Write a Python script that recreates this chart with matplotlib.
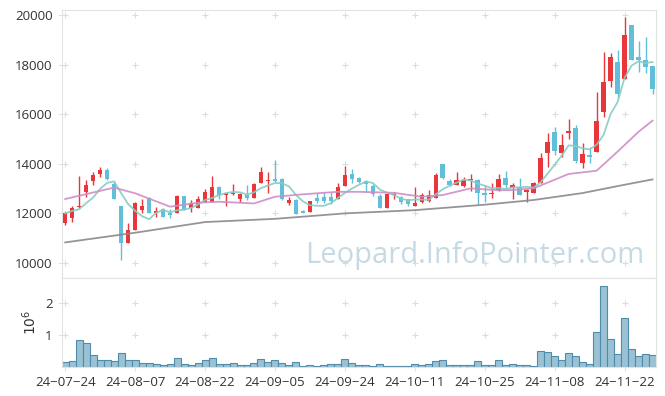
import numpy as np
import matplotlib
matplotlib.use("Agg")
from matplotlib import pyplot as plt

plt.rcParams['font.family'] = ['Open Sans', 'DejaVu Sans']

# daily bars, 24-07-24 .. 24-11-28 (85 trading days)
opens = [11600, 11800, 12250, 12850, 13300, 13580, 13750, 13200, 12300, 10800,
         11330, 12140, 12630, 12030, 12160, 12000, 12030, 12700, 12200, 12230,
         12470, 12470, 13050, 12740, 12780, 12570, 12740, 12630, 13240, 13300,
         13400, 13380, 12430, 12540, 12100, 12070, 12630, 12670, 12670, 12600,
         13120, 13590, 13440, 13300, 13100, 12700, 12230, 12740, 12650, 12570,
         12310, 12470, 12500, 12630, 13990, 13320, 13150, 13100, 13330, 13350,
         12830, 12780, 12940, 13440, 13010, 13080, 12870, 12810, 13240, 14420,
         15280, 14420, 15250, 15430, 14020, 14350, 14490, 16100, 17350, 18120,
         17400, 19600, 18320, 18190, 17940]
highs = [12050, 12300, 13500, 13350, 13650, 13860, 13820, 13280, 12300, 11620,
         12470, 12570, 12650, 12270, 12200, 12160, 12750, 12720, 12540, 12700,
         12970, 13500, 13100, 12830, 13190, 12830, 13150, 13230, 13860, 13680,
         14150, 13420, 12670, 12580, 12150, 12510, 12830, 12870, 12870, 13210,
         13910, 13800, 13460, 13350, 13200, 12800, 12800, 12870, 12700, 12600,
         13050, 12810, 12940, 13640, 14000, 13400, 13660, 13450, 13570, 13380,
         13150, 13240, 13590, 13720, 13240, 13410, 12970, 13260, 14450, 15230,
         15500, 15190, 15810, 15560, 14830, 14690, 16880, 18520, 18480, 18590,
         19930, 19600, 18950, 19100, 17940]
lows = [11550, 11650, 12230, 12650, 13150, 13480, 13350, 12580, 10120, 10800,
        11330, 12000, 12000, 11870, 11870, 11800, 12030, 12140, 12070, 12230,
        12470, 12470, 12600, 12300, 12740, 12470, 12540, 12630, 13240, 12830,
        13250, 12550, 12340, 11960, 12000, 12070, 12400, 12400, 12380, 12600,
        13120, 13210, 13210, 12870, 12700, 12230, 12230, 12600, 12380, 12300,
        12300, 12430, 12450, 12630, 13400, 13100, 13150, 13050, 12900, 12370,
        12450, 12610, 12900, 13010, 12570, 12740, 12470, 12810, 13240, 13880,
        14350, 14290, 14990, 14020, 13820, 14020, 14490, 15900, 17080, 16710,
        17400, 18190, 17710, 17650, 16810]
closes = [12000, 12200, 12300, 13150, 13550, 13750, 13400, 12600, 10800, 11330,
          12400, 12300, 12000, 12100, 11870, 11950, 12700, 12140, 12430, 12570,
          12870, 13080, 12740, 12830, 12800, 12800, 12630, 13190, 13680, 13320,
          13300, 12600, 12540, 11960, 12030, 12510, 12510, 12510, 12510, 13050,
          13550, 13380, 13260, 13170, 12770, 12230, 12770, 12770, 12470, 12370,
          12430, 12740, 12740, 13550, 13410, 13150, 13350, 13350, 13350, 12810,
          12730, 12820, 13400, 13130, 13150, 12740, 12940, 13240, 14220, 14880,
          14530, 14760, 15320, 14110, 14400, 14290, 15730, 17310, 18290, 16810,
          19190, 18190, 18190, 17920, 17030]
volumes = [160000, 190000, 840000, 750000, 375000, 220000, 220000, 190000, 440000, 230000,
           230000, 125000, 125000, 90000, 60000, 90000, 280000, 90000, 60000, 125000,
           220000, 280000, 90000, 90000, 125000, 60000, 60000, 125000, 250000, 160000,
           220000, 125000, 60000, 160000, 30000, 60000, 30000, 60000, 90000, 90000,
           250000, 125000, 60000, 60000, 30000, 90000, 30000, 30000, 30000, 30000,
           90000, 60000, 90000, 190000, 220000, 60000, 60000, 60000, 60000, 190000,
           60000, 60000, 220000, 60000, 90000, 60000, 60000, 30000, 500000, 470000,
           340000, 220000, 440000, 340000, 160000, 90000, 1090000, 2530000, 875000, 410000,
           1530000, 560000, 340000, 410000, 375000]

# longer moving averages (bar index, value)
ma20_idx = [0, 7, 10, 15, 19, 22, 27, 30, 34, 39, 42, 47, 51, 54, 58, 62, 64, 67, 72, 76, 79, 82, 84]
ma20_val = [12580, 13040, 12810, 12270, 12430, 12470, 12400, 12670, 12770, 12870, 12870, 12830,
            12670, 12740, 13010, 12930, 12940, 13010, 13590, 13720, 14490, 15290, 15740]
ma60_idx = [0, 10, 20, 30, 40, 50, 60, 67, 74, 79, 84]
ma60_val = [10830, 11220, 11650, 11780, 12000, 12130, 12350, 12540, 12820, 13100, 13370]

tick_pos = [0, 10, 20, 30, 40, 50, 60, 70, 80]
tick_labels = ['24-07-24', '24-08-07', '24-08-22', '24-09-05', '24-09-24',
               '24-10-11', '24-10-25', '24-11-08', '24-11-22']

up_color = '#e8363b'
down_color = '#62bfda'

fig = plt.figure(figsize=(6.65, 3.96), dpi=100)
ax = fig.add_axes([0.0928, 0.298, 0.8937, 0.6767])
axv = fig.add_axes([0.0928, 0.0725, 0.8937, 0.2255], sharex=ax)

x = np.arange(len(closes))
o = np.array(opens); h = np.array(highs); l = np.array(lows); c = np.array(closes)
cols = np.where(c >= o, up_color, down_color)

ax.vlines(x, l, h, colors=cols, linewidth=1.0, zorder=2)
body_h = np.abs(c - o)
body_h = np.where(body_h < 40, 40, body_h)
ax.bar(x, body_h, bottom=np.minimum(o, c), width=0.65, color=cols, linewidth=0, zorder=3)

ma5 = np.convolve(c, np.ones(5), 'full')[:len(c)] / np.minimum(np.arange(1, len(c) + 1), 5)
ax.plot(x, ma5, color='#86cdc4', lw=1.3, alpha=0.9, zorder=4)
ax.plot(ma20_idx, ma20_val, color='#cf8dc7', lw=1.3, alpha=0.9, zorder=4)
ax.plot(ma60_idx, ma60_val, color='#8a8a8a', lw=1.3, alpha=0.9, zorder=4)

ax.text(0.6946, 0.056, 'Leopard.InfoPointer.com', transform=ax.transAxes,
        ha='center', va='baseline', fontsize=21, color='#c6dae6', zorder=1)

ax.set_ylim(9395, 20200)
ax.set_yticks(range(10000, 20001, 2000))
ax.set_xlim(-0.5, 84.5)

axv.bar(x, np.array(volumes) / 1e6, width=1.0, color='#9bc2d4', edgecolor='#4f8cab',
        linewidth=0.8, zorder=2)
axv.set_ylim(0, 2.78)
axv.set_yticks([1, 2])
axv.set_yticklabels(['1', '2'])
axv.set_ylabel('$10^6$', fontsize=10, color='#333333', labelpad=4)
axv.set_xticks(tick_pos)
axv.set_xticklabels([t.replace('-', '\u2212') for t in tick_labels])

for a, yt in ((ax, list(range(10000, 20001, 2000))), (axv, [1, 2])):
    gx, gy = np.meshgrid(tick_pos, yt)
    a.plot(gx.ravel(), gy.ravel(), '+', color='#dcdcdc', ms=5, mew=0.8, zorder=0)
    for s in a.spines.values():
        s.set_color('#e2e2e2')
    a.tick_params(colors='#e2e2e2', labelcolor='#333333', labelsize=9.5, length=3)
plt.setp(ax.get_xticklabels(), visible=False)
ax.tick_params(axis='x', length=0)

fig.savefig('out.png', dpi=100)
